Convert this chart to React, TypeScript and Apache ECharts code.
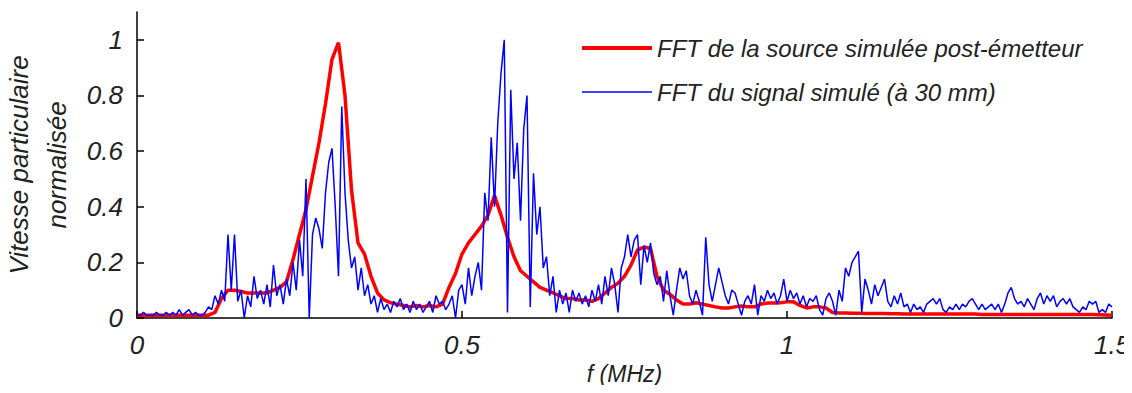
import React, { useEffect, useRef } from "react";
import * as echarts from "echarts";

const yTicks = [0, 0.2, 0.4, 0.6, 0.8, 1];

const seriesNames = [
  "FFT de la source simulée post-émetteur",
  "FFT du signal simulé (à 30 mm)",
];

// Red curve, sampled every 0.01 MHz from 0 to 1.5
const redStep = 0.01;
const redValues = [
  0.01, 0.01, 0.01, 0.01, 0.01, 0.01, 0.01, 0.01, 0.01, 0.01,
  0.01, 0.01, 0.02, 0.07, 0.10, 0.10, 0.095, 0.09, 0.09, 0.09,
  0.09, 0.10, 0.11, 0.13, 0.21, 0.30, 0.39, 0.51, 0.63, 0.77,
  0.93, 0.99, 0.80, 0.46, 0.27, 0.23, 0.15, 0.09, 0.065, 0.055,
  0.05, 0.045, 0.04, 0.045, 0.04, 0.045, 0.04, 0.05, 0.11, 0.16,
  0.23, 0.27, 0.30, 0.33, 0.37, 0.44, 0.37, 0.29, 0.22, 0.17,
  0.15, 0.13, 0.11, 0.10, 0.09, 0.08, 0.07, 0.07, 0.065, 0.065,
  0.06, 0.07, 0.09, 0.11, 0.125, 0.15, 0.19, 0.245, 0.255, 0.25,
  0.15, 0.10, 0.085, 0.065, 0.05, 0.05, 0.055, 0.05, 0.045, 0.04,
  0.036, 0.036, 0.04, 0.043, 0.04, 0.04, 0.05, 0.054, 0.054, 0.055,
  0.058, 0.058, 0.045, 0.036, 0.04, 0.04, 0.036, 0.02, 0.018, 0.018,
  0.017, 0.017, 0.016, 0.016, 0.016, 0.016, 0.015, 0.015, 0.014, 0.014,
  0.014, 0.014, 0.014, 0.014, 0.014, 0.014, 0.014, 0.014, 0.014, 0.014,
  0.013, 0.013, 0.013, 0.013, 0.013, 0.013, 0.013, 0.013, 0.013, 0.013,
  0.013, 0.013, 0.013, 0.013, 0.013, 0.013, 0.013, 0.013, 0.012, 0.011, 0.01,
];

// Blue curve, sampled every 0.005 MHz from 0 to 1.5
const blueStep = 0.005;
const blueValues = [
  0.01, 0.01, 0.02, 0.01, 0.01, 0.01, 0.02, 0.01, 0.01, 0.02, 0.01, 0.02, 0.01, 0.03, 0.01, 0.02, 0.03, 0.01, 0.02, 0.01,
  0.01, 0.02, 0.04, 0.03, 0.08, 0.05, 0.10, 0.06, 0.30, 0.10, 0.30, 0.06, 0.10, 0.00, 0.08, 0.04, 0.15, 0.07, 0.10, 0.05,
  0.12, 0.04, 0.19, 0.08, 0.12, 0.05, 0.14, 0.08, 0.20, 0.10, 0.28, 0.15, 0.50, 0.00, 0.30, 0.36, 0.32, 0.25, 0.45, 0.56,
  0.61, 0.40, 0.15, 0.76, 0.45, 0.28, 0.18, 0.22, 0.10, 0.18, 0.08, 0.12, 0.05, 0.08, 0.02, 0.07, 0.03, 0.05, 0.02, 0.06,
  0.04, 0.07, 0.03, 0.05, 0.02, 0.06, 0.03, 0.05, 0.02, 0.04, 0.06, 0.02, 0.08, 0.05, 0.06, 0.03, 0.05, 0.08, 0.00, 0.10,
  0.12, 0.05, 0.18, 0.08, 0.15, 0.20, 0.10, 0.45, 0.35, 0.65, 0.40, 0.70, 0.88, 1.00, 0.02, 0.82, 0.50, 0.63, 0.35, 0.68,
  0.80, 0.04, 0.52, 0.30, 0.40, 0.18, 0.22, 0.08, 0.15, 0.02, 0.10, 0.05, 0.09, 0.02, 0.10, 0.06, 0.09, 0.05, 0.08, 0.04,
  0.10, 0.06, 0.12, 0.05, 0.15, 0.08, 0.18, 0.12, 0.02, 0.18, 0.22, 0.30, 0.22, 0.28, 0.30, 0.12, 0.26, 0.20, 0.27, 0.16,
  0.12, 0.15, 0.06, 0.17, 0.08, 0.01, 0.10, 0.18, 0.14, 0.17, 0.08, 0.05, 0.10, 0.06, 0.01, 0.29, 0.12, 0.06, 0.12, 0.18,
  0.13, 0.08, 0.05, 0.10, 0.09, 0.05, 0.01, 0.06, 0.08, 0.05, 0.12, 0.01, 0.08, 0.06, 0.10, 0.07, 0.09, 0.05, 0.08, 0.14,
  0.06, 0.10, 0.07, 0.09, 0.05, 0.08, 0.04, 0.07, 0.06, 0.08, 0.03, 0.01, 0.07, 0.09, 0.06, 0.01, 0.10, 0.06, 0.18, 0.15,
  0.20, 0.22, 0.24, 0.02, 0.14, 0.10, 0.05, 0.12, 0.08, 0.11, 0.14, 0.06, 0.04, 0.08, 0.05, 0.09, 0.04, 0.05, 0.02, 0.05,
  0.03, 0.04, 0.02, 0.05, 0.06, 0.07, 0.05, 0.07, 0.03, 0.02, 0.04, 0.03, 0.05, 0.03, 0.05, 0.04, 0.06, 0.07, 0.05, 0.03,
  0.05, 0.03, 0.04, 0.05, 0.03, 0.05, 0.02, 0.05, 0.09, 0.11, 0.07, 0.05, 0.06, 0.04, 0.07, 0.05, 0.03, 0.07, 0.09, 0.05,
  0.08, 0.06, 0.08, 0.04, 0.06, 0.07, 0.05, 0.07, 0.04, 0.03, 0.02, 0.04, 0.03, 0.06, 0.05, 0.06, 0.02, 0.03, 0.02, 0.05, 0.04,
];

const FONT = "'Liberation Sans', Arial, sans-serif";

export default function App() {
  const ref = useRef<HTMLDivElement>(null);
  useEffect(() => {
    if (!ref.current) return;
    const chart = echarts.init(ref.current, null, { renderer: "svg" });
    const redData = redValues.map((v, i) => [+(i * redStep).toFixed(3), v]);
    const blueData = blueValues.map((v, i) => [+(i * blueStep).toFixed(3), v]);
    chart.setOption({
      animation: false,
      backgroundColor: "#ffffff",
      grid: { left: 137, right: 20, top: 12, bottom: 75, containLabel: false, outerBoundsMode: "none" },
      legend: {
        orient: "vertical",
        left: 577,
        top: 31,
        itemWidth: 70,
        itemHeight: 20,
        itemGap: 20,
        textStyle: { fontFamily: FONT, fontStyle: "italic", fontSize: 24, color: "#222" },
        data: [
          { name: seriesNames[0], icon: "path://M0,0 L70,0 L70,4 L0,4 Z" },
          { name: seriesNames[1], icon: "path://M0,0 L70,0 L70,1.6 L0,1.6 Z" },
        ],
      },
      xAxis: {
        type: "value",
        min: 0,
        max: 1.5,
        interval: 0.5,
        name: "f (MHz)",
        nameLocation: "middle",
        nameGap: 43,
        nameTextStyle: { fontFamily: FONT, fontStyle: "italic", fontSize: 23, color: "#222" },
        axisLine: { show: true, onZero: false, lineStyle: { color: "#000", width: 1.5 } },
        axisTick: { show: true, inside: true, length: 7, lineStyle: { color: "#000", width: 1.5 } },
        axisLabel: {
          fontFamily: FONT,
          fontStyle: "italic",
          fontSize: 26,
          color: "#222",
          margin: 14,
          formatter: (v: number) => String(v),
        },
        splitLine: { show: false },
      },
      yAxis: {
        type: "value",
        min: 0,
        max: 1.1,
        interval: 0.2,
        name: "Vitesse particulaire\nnormalisée",
        nameLocation: "middle",
        nameGap: 57,
        nameRotate: 90,
        nameTextStyle: {
          fontFamily: FONT,
          fontStyle: "italic",
          fontSize: 26,
          lineHeight: 38,
          color: "#222",
          align: "center",
        },
        axisLine: { show: true, lineStyle: { color: "#000", width: 1.5 } },
        axisTick: { show: true, inside: true, length: 7, customValues: yTicks, lineStyle: { color: "#000", width: 1.5 } },
        axisLabel: {
          fontFamily: FONT,
          fontStyle: "italic",
          fontSize: 26,
          color: "#222",
          margin: 14,
          customValues: yTicks,
          formatter: (v: number) => String(+v.toFixed(2)),
        },
        splitLine: { show: false },
      },
      series: [
        {
          name: seriesNames[0],
          type: "line",
          data: redData,
          symbol: "none",
          lineStyle: { color: "#ff0000", width: 3.5 },
          itemStyle: { color: "#ff0000" },
          z: 2,
        },
        {
          name: seriesNames[1],
          type: "line",
          data: blueData,
          symbol: "none",
          lineStyle: { color: "#0000ff", width: 1.5 },
          itemStyle: { color: "#0000ff" },
          z: 3,
        },
      ],
    });
    return () => chart.dispose();
  }, []);
  return <div ref={ref} style={{ width: 1132, height: 393, margin: -8 }} />;
}
